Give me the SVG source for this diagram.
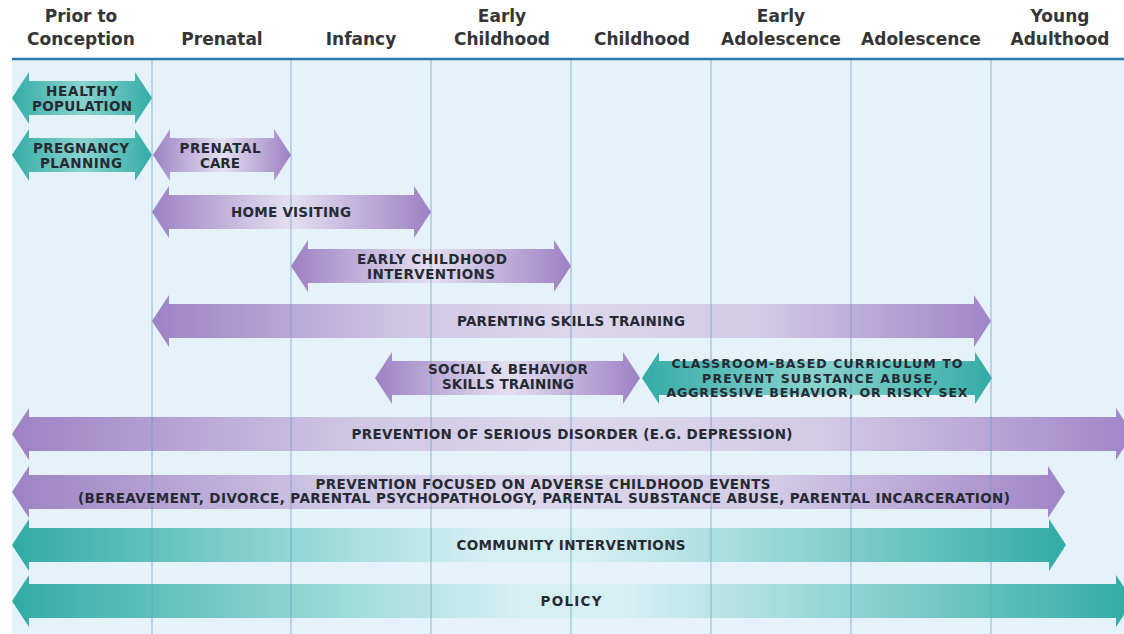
<svg xmlns="http://www.w3.org/2000/svg" width="1124" height="634" viewBox="0 0 1124 634">
<defs>
<style>
.hd{font-family:"DejaVu Sans","Liberation Sans",sans-serif;font-weight:bold;font-size:17px;fill:#353535;text-anchor:middle}
.lb{font-family:"DejaVu Sans","Liberation Sans",sans-serif;font-weight:bold;font-size:13.5px;fill:#262a33;text-anchor:middle}
.sm{font-size:12.5px}
.vl{stroke:#6b9fca;stroke-width:1;opacity:0.75}
</style>
<linearGradient id="gP" x1="0" y1="0" x2="1" y2="0">
<stop offset="0" stop-color="#9d81c4"/><stop offset="0.5" stop-color="#e4e0f0"/><stop offset="1" stop-color="#9d81c4"/>
</linearGradient>
<linearGradient id="gPL" x1="0" y1="0" x2="1" y2="0">
<stop offset="0" stop-color="#9d82c4"/><stop offset="0.3" stop-color="#cfc6e4"/><stop offset="0.5" stop-color="#dcd7ec"/><stop offset="0.72" stop-color="#d3cbe6"/><stop offset="1" stop-color="#a085c7"/>
</linearGradient>
<linearGradient id="gT" x1="0" y1="0" x2="1" y2="0">
<stop offset="0" stop-color="#34aca6"/><stop offset="0.5" stop-color="#8ad3cf"/><stop offset="1" stop-color="#34aca6"/>
</linearGradient>
<linearGradient id="gTL" x1="0" y1="0" x2="1" y2="0">
<stop offset="0" stop-color="#31aba5"/><stop offset="0.3" stop-color="#9fdbdb"/><stop offset="0.45" stop-color="#d6eff3"/><stop offset="0.55" stop-color="#d6eff3"/><stop offset="0.75" stop-color="#8fd3d2"/><stop offset="1" stop-color="#31aba5"/>
</linearGradient>
</defs>
<rect x="0" y="0" width="1124" height="634" fill="#ffffff"/>
<rect x="12" y="59" width="1112" height="575" fill="#e6f2f9"/>
<line x1="12" y1="59" x2="1124" y2="59" stroke="#2f78aa" stroke-width="2.5"/>

<g id="header">
<text class="hd" x="81" y="22">Prior to</text>
<text class="hd" x="81" y="45">Conception</text>
<text class="hd" x="222" y="45">Prenatal</text>
<text class="hd" x="361" y="45">Infancy</text>
<text class="hd" x="502" y="22">Early</text>
<text class="hd" x="502" y="45">Childhood</text>
<text class="hd" x="642" y="45">Childhood</text>
<text class="hd" x="781" y="22">Early</text>
<text class="hd" x="781" y="45">Adolescence</text>
<text class="hd" x="921" y="45">Adolescence</text>
<text class="hd" x="1060" y="22">Young</text>
<text class="hd" x="1060" y="45">Adulthood</text>
</g>

<g id="connectors">
<path id="a-healthy" fill="url(#gT)" d="M12 98 L29 72 L29 81 L135 81 L135 72 L152 98 L135 124 L135 115 L29 115 L29 124 Z"/>
<path id="a-pregnancy" fill="url(#gT)" d="M12 155 L29 129 L29 138 L135 138 L135 129 L152 155 L135 181 L135 172 L29 172 L29 181 Z"/>
<path id="a-prenatal" fill="url(#gP)" d="M153 155 L170 129 L170 138 L274 138 L274 129 L291 155 L274 181 L274 172 L170 172 L170 181 Z"/>
<path id="a-home" fill="url(#gP)" d="M152 212 L169 186 L169 195 L414 195 L414 186 L431 212 L414 238 L414 229 L169 229 L169 238 Z"/>
<path id="a-eci" fill="url(#gP)" d="M291 266 L308 240 L308 249 L554 249 L554 240 L571 266 L554 292 L554 283 L308 283 L308 292 Z"/>
<path id="a-parent" fill="url(#gPL)" d="M152 321 L169 295 L169 304 L974 304 L974 295 L991 321 L974 347 L974 338 L169 338 L169 347 Z"/>
<path id="a-social" fill="url(#gP)" d="M375 378 L392 352 L392 361 L623 361 L623 352 L640 378 L623 404 L623 395 L392 395 L392 404 Z"/>
<path id="a-class" fill="url(#gT)" d="M642 378 L659 352 L659 361 L975 361 L975 352 L992 378 L975 404 L975 395 L659 395 L659 404 Z"/>
<path id="a-serious" fill="url(#gPL)" d="M12 434 L29 408 L29 417 L1116 417 L1116 408 L1133 434 L1116 460 L1116 451 L29 451 L29 460 Z"/>
<path id="a-adverse" fill="url(#gPL)" d="M12 492 L29 466 L29 475 L1048 475 L1048 466 L1065 492 L1048 518 L1048 509 L29 509 L29 518 Z"/>
<path id="a-community" fill="url(#gTL)" d="M12 545 L29 519 L29 528 L1049 528 L1049 519 L1066 545 L1049 571 L1049 562 L29 562 L29 571 Z"/>
<path id="a-policy" fill="url(#gTL)" d="M12 601 L29 575 L29 584 L1116 584 L1116 575 L1133 601 L1116 627 L1116 618 L29 618 L29 627 Z"/>
</g>

<g id="gridlines">
<line class="vl" x1="152" y1="60" x2="152" y2="634"/>
<line class="vl" x1="291" y1="60" x2="291" y2="634"/>
<line class="vl" x1="431" y1="60" x2="431" y2="634"/>
<line class="vl" x1="571" y1="60" x2="571" y2="634"/>
<line class="vl" x1="711" y1="60" x2="711" y2="634"/>
<line class="vl" x1="851" y1="60" x2="851" y2="634"/>
<line class="vl" x1="991" y1="60" x2="991" y2="634"/>
</g>

<g id="n-healthy"><text class="lb" x="82" y="96" textLength="72">HEALTHY</text><text class="lb" x="82" y="111" textLength="100">POPULATION</text></g>
<g id="n-pregnancy"><text class="lb" x="81" y="153" textLength="96">PREGNANCY</text><text class="lb" x="81" y="168" textLength="82">PLANNING</text></g>
<g id="n-prenatal"><text class="lb" x="220" y="153" textLength="81">PRENATAL</text><text class="lb" x="220" y="168" textLength="40">CARE</text></g>
<g id="n-home"><text class="lb" x="291" y="217" textLength="120">HOME VISITING</text></g>
<g id="n-eci"><text class="lb" x="432" y="264" textLength="150">EARLY CHILDHOOD</text><text class="lb" x="431" y="279" textLength="128">INTERVENTIONS</text></g>
<g id="n-parent"><text class="lb" x="571" y="326" textLength="228">PARENTING SKILLS TRAINING</text></g>
<g id="n-social"><text class="lb" x="508" y="374" textLength="160">SOCIAL &amp; BEHAVIOR</text><text class="lb" x="508" y="389" textLength="132">SKILLS TRAINING</text></g>
<g id="n-class"><text class="lb sm" x="817" y="368" textLength="291">CLASSROOM-BASED CURRICULUM TO</text><text class="lb sm" x="820" y="382.5" textLength="236">PREVENT SUBSTANCE ABUSE,</text><text class="lb sm" x="817" y="397" textLength="301">AGGRESSIVE BEHAVIOR, OR RISKY SEX</text></g>
<g id="n-serious"><text class="lb" x="572" y="439" textLength="441">PREVENTION OF SERIOUS DISORDER (E.G. DEPRESSION)</text></g>
<g id="n-adverse"><text class="lb" x="543" y="488.5" textLength="455">PREVENTION FOCUSED ON ADVERSE CHILDHOOD EVENTS</text><text class="lb" x="544" y="503" textLength="932">(BEREAVEMENT, DIVORCE, PARENTAL PSYCHOPATHOLOGY, PARENTAL SUBSTANCE ABUSE, PARENTAL INCARCERATION)</text></g>
<g id="n-community"><text class="lb" x="571" y="550" textLength="229">COMMUNITY INTERVENTIONS</text></g>
<g id="n-policy"><text class="lb" x="571" y="606" textLength="61">POLICY</text></g>
</svg>
